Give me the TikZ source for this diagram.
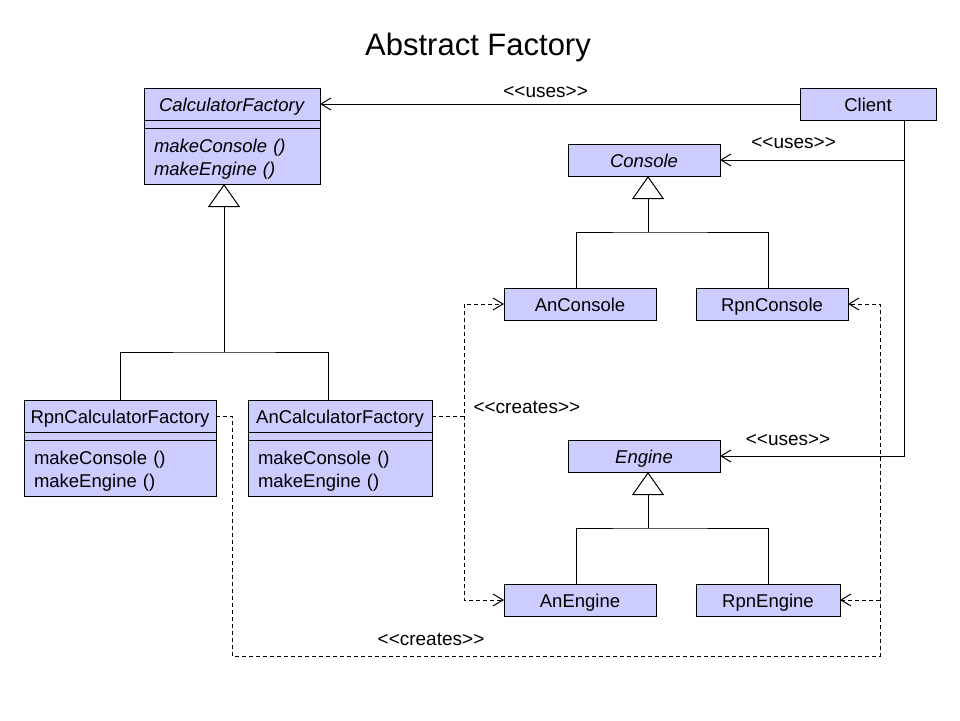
\documentclass[tikz,border=0pt]{standalone}
\usepackage{fontspec}
\setmainfont{Liberation Sans}
\usetikzlibrary{positioning,arrows.meta}
\definecolor{umlfill}{RGB}{204,204,255}

\tikzset{
  clsname/.style={draw, fill=umlfill, minimum width=#1, minimum height=32pt, inner sep=0pt, outer sep=0pt, text height=19pt, text depth=4pt},
  clsgap/.style={draw, fill=umlfill, minimum width=#1, minimum height=8pt, inner sep=0pt, outer sep=0pt},
  clsops/.style={draw, fill=umlfill, text width=#1, minimum height=56pt, inner xsep=10pt, inner ysep=0pt, outer sep=0pt, align=left, text height=18pt, text depth=26pt},
  uses/.style={-{Straight Barb[length=10pt,width=12pt]}},
  creates/.style={uses, dash pattern=on 4pt off 3pt},
  inherits/.style={-{Triangle[open,length=23pt,width=32pt]}},
  lbl/.style={inner sep=0pt, font=\fontsize{19}{23}\selectfont},
}

\begin{document}
\begin{tikzpicture}[x=1pt, y=-1pt, line width=1pt, font=\fontsize{18.5}{23}\selectfont]
  \useasboundingbox (0,0) rectangle (960,720);
  \node[font=\fontsize{31}{36}\selectfont] (title) at (478,47) {Abstract Factory};

  \node[clsname=176pt] (CF) at (232,104) {\textit{CalculatorFactory}};
  \node[clsgap=176pt, below=0pt of CF] (CFgap) {};
  \node[clsops=156pt, below=0pt of CFgap] (CFops) {\textit{makeConsole ()}\\\textit{makeEngine ()}};

  \node[clsname=192pt, below=216pt of CFops, xshift=-112pt] (RpnCF) {RpnCalculatorFactory};
  \node[clsgap=192pt, below=0pt of RpnCF] (RpnCFgap) {};
  \node[clsops=172pt, below=0pt of RpnCFgap] (RpnCFops) {makeConsole ()\\makeEngine ()};

  \node[clsname=184pt, right=32pt of RpnCF] (AnCF) {AnCalculatorFactory};
  \node[clsgap=184pt, below=0pt of AnCF] (AnCFgap) {};
  \node[clsops=164pt, below=0pt of AnCFgap] (AnCFops) {makeConsole ()\\makeEngine ()};

  \node[clsname=136pt, right=480pt of CF] (Client) {Client};

  \node[clsname=152pt] (Console) at (644,160) {\textit{Console}};
  \node[clsname=152pt, below=112pt of Console, xshift=-64pt] (AnConsole) {AnConsole};
  \node[clsname=152pt, right=40pt of AnConsole] (RpnConsole) {RpnConsole};

  \node[clsname=152pt, below=264pt of Console] (Engine) {\textit{Engine}};
  \node[clsname=152pt, below=112pt of Engine, xshift=-64pt] (AnEngine) {AnEngine};
  \node[clsname=144pt, right=40pt of AnEngine] (RpnEngine) {RpnEngine};

  % generalisations
  \coordinate (fbus) at (224,352);
  \draw[inherits] (fbus) -- (fbus |- CFops.south);
  \draw (RpnCF.north) |- (fbus) -| ([xshift=-12pt]AnCF.north);

  \coordinate (cbus) at (648,232);
  \draw[inherits] (cbus) -- (cbus |- Console.south);
  \draw ([xshift=-4pt]AnConsole.north) |- (cbus) -| ([xshift=-4pt]RpnConsole.north);

  \coordinate (ebus) at (648,528);
  \draw[inherits] (ebus) -- (ebus |- Engine.south);
  \draw ([xshift=-4pt]AnEngine.north) |- (ebus) -| (RpnEngine.north);

  % uses
  \draw[uses] (Client) -- node[lbl, above=6pt, pos=0.53] (lblUseCF) {<{}<uses>{}>} (CF);
  \coordinate (cdrop) at ([xshift=36pt]Client.south);
  \draw[uses] (cdrop) |- node[lbl, above=11pt, pos=0.8] (lblUseCon) {<{}<uses>{}>} (Console.east);
  \draw[uses] (cdrop) |- node[lbl, above=10pt, pos=0.815] (lblUseEng) {<{}<uses>{}>} (Engine.east);

  % creates
  \draw[creates] (AnCF.east) -- ++(32,0) coordinate (ajunc) |- (AnConsole.west);
  \draw[creates] (ajunc) |- (AnEngine.west);
  \node[lbl, anchor=base west] (lblCreAn) at (473,413) {<{}<creates>{}>};

  \coordinate (rcorner) at (880,656);
  \draw[creates] (RpnCF.east) -- ++(16,0) |- (rcorner) |- (RpnConsole.east);
  \draw[creates] (rcorner |- RpnEngine.east) -- (RpnEngine.east);
  \node[lbl, anchor=base] (lblCreRpn) at (431,645) {<{}<creates>{}>};
\end{tikzpicture}
\end{document}
